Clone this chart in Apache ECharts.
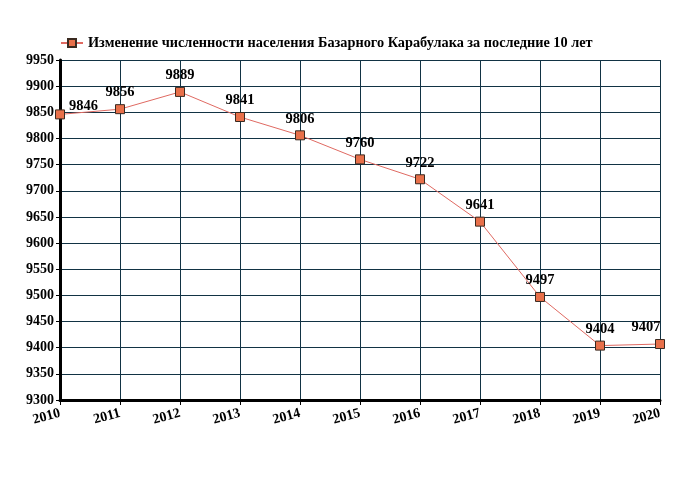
<!DOCTYPE html>
<html><head><meta charset="utf-8">
<script src="https://cdn.jsdelivr.net/npm/echarts@6/dist/echarts.min.js"></script>
<style>html,body{margin:0;padding:0;background:#fff}#c{width:680px;height:500px}</style>
</head><body><div id="c"></div>
<script>
const years = ['2010','2011','2012','2013','2014','2015','2016','2017','2018','2019','2020'];
const population = [9846, 9856, 9889, 9841, 9806, 9760, 9722, 9641, 9497, 9404, 9407];
const seriesName = 'Изменение численности населения Базарного Карабулака за последние 10 лет';
const font = 'Liberation Serif';
const chart = echarts.init(document.getElementById('c'));
chart.setOption({
  animation: false,
  backgroundColor: '#fff',
  legend: {
    top: 31, left: 55,
    itemWidth: 22, itemHeight: 10, itemGap: 4,
    textStyle: {fontFamily: font, fontWeight: 'bold', fontSize: 14.3, color: '#000'},
    data: [seriesName]
  },
  grid: {left: 60, right: 20, top: 60, bottom: 100},
  xAxis: {
    type: 'category', data: years, boundaryGap: false,
    axisLine: {lineStyle: {color: '#000', width: 3}},
    axisTick: {show: true, length: 5, lineStyle: {color: '#000', width: 1}},
    axisLabel: {rotate: 15, fontFamily: font, fontWeight: 'bold', fontSize: 14, color: '#000', margin: 13},
    splitLine: {show: true, lineStyle: {color: '#123344', width: 1}}
  },
  yAxis: {
    type: 'value', min: 9300, max: 9950, interval: 50,
    axisLine: {show: true, lineStyle: {color: '#000', width: 3}},
    axisTick: {show: true, length: 4, lineStyle: {color: '#000'}},
    axisLabel: {fontFamily: font, fontWeight: 'bold', fontSize: 14, color: '#000', margin: 6,
      formatter: v => String(v)},
    splitLine: {show: true, lineStyle: {color: '#123344', width: 1}}
  },
  series: [{
    name: seriesName, type: 'line',
    data: population.map((v, i) => {
      if (i === 0) return {value: v, label: {position: 'right', offset: [0, -8]}};
      if (i === population.length - 1) return {value: v, label: {offset: [-14, 0]}};
      return v;
    }),
    symbol: 'rect', symbolSize: 9,
    lineStyle: {color: '#e06a62', width: 1},
    itemStyle: {color: '#e8704a', borderColor: '#3a2a20', borderWidth: 1},
    label: {show: true, position: 'top', distance: 4, fontFamily: font, fontWeight: 'bold', fontSize: 14.5, color: '#000'}
  }]
});
</script></body></html>
